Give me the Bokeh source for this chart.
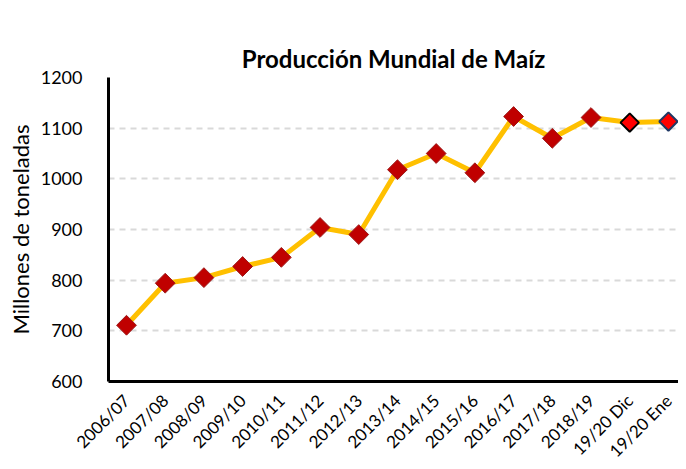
import numpy as np
from bokeh.plotting import figure
from bokeh.models import Range1d, FixedTicker, ColumnDataSource, LinearAxis
from bokeh.embed import file_html
from bokeh.resources import INLINE

categories = ["2006/07", "2007/08", "2008/09", "2009/10", "2010/11", "2011/12",
              "2012/13", "2013/14", "2014/15", "2015/16", "2016/17", "2017/18",
              "2018/19", "19/20 Dic", "19/20 Ene"]
values = [711, 794, 805, 827, 845, 904, 890, 1018, 1050, 1012, 1123, 1080, 1121, 1111, 1113]
y_ticks = [600, 700, 800, 900, 1000, 1100, 1200]

FONT = "Lato"
xs = list(range(len(categories)))

p = figure(frame_width=570, frame_height=304, output_backend="svg", toolbar_location=None,
           x_range=Range1d(-0.465, 14.26), y_range=Range1d(600, 1200),
           min_border_left=108, min_border_right=0, min_border_top=77,
           min_border_bottom=78)
p.outline_line_color = None
p.background_fill_color = "white"
p.border_fill_color = "white"

p.title.text = "Producción Mundial de Maíz"
p.title.align = "center"
p.title.vertical_align = "bottom"
p.title.text_font = FONT
p.title.text_font_size = "24px"
p.title.text_font_style = "bold"
p.title.text_color = "black"
p.title.standoff = 10

# bottom (category) axis
xax = p.below[0]
xax.ticker = FixedTicker(ticks=xs)
xax.major_label_overrides = {i: c for i, c in enumerate(categories)}
xax.major_label_orientation = np.pi / 4
xax.major_label_text_font = FONT
xax.major_label_text_font_size = "17px"
xax.major_label_text_color = "black"
xax.major_tick_line_color = None
xax.minor_tick_line_color = None
xax.axis_line_width = 3
xax.axis_line_color = "black"
xax.major_label_standoff = 10

# invisible spacer between the title and the frame
spacer = LinearAxis(ticker=FixedTicker(ticks=[]), axis_line_color=None,
                    major_tick_line_color=None, minor_tick_line_color=None,
                    major_tick_out=34, major_tick_in=0, minor_tick_out=0,
                    major_label_standoff=0)
p.add_layout(spacer, "above")

p.yaxis.ticker = FixedTicker(ticks=y_ticks)
p.yaxis.major_label_text_font = FONT
p.yaxis.major_label_text_font_size = "18px"
p.yaxis.major_label_text_color = "black"
p.yaxis.major_tick_line_color = None
p.yaxis.minor_tick_line_color = None
p.yaxis.axis_line_width = 3
p.yaxis.axis_line_color = "black"
p.yaxis.major_label_standoff = 20
p.yaxis.axis_label = "Millones de toneladas"
p.yaxis.axis_label_text_font = FONT
p.yaxis.axis_label_text_font_size = "22px"
p.yaxis.axis_label_text_font_style = "normal"
p.yaxis.axis_label_text_color = "black"
p.yaxis.axis_label_standoff = 4

p.xgrid.grid_line_color = None
p.ygrid.grid_line_color = "#D9D9D9"
p.ygrid.grid_line_width = 2
p.ygrid.grid_line_dash = "6 5"

src = ColumnDataSource(dict(x=xs, y=values))
p.line("x", "y", source=src, line_color="#FFC000", line_width=5)

main = ColumnDataSource(dict(x=xs[:13], y=values[:13]))
p.scatter("x", "y", source=main, marker="square", angle=np.pi / 4, size=14,
          fill_color="#C00000", line_color="#9C1A1A", line_width=1)
dic = ColumnDataSource(dict(x=xs[13:14], y=values[13:14]))
p.scatter("x", "y", source=dic, marker="square", angle=np.pi / 4, size=13,
          fill_color="#FF0000", line_color="black", line_width=2)
ene = ColumnDataSource(dict(x=xs[14:15], y=values[14:15]))
p.scatter("x", "y", source=ene, marker="square", angle=np.pi / 4, size=13,
          fill_color="#FF0000", line_color="#1F3864", line_width=2)

open("out.html", "w").write(file_html(p, INLINE))
